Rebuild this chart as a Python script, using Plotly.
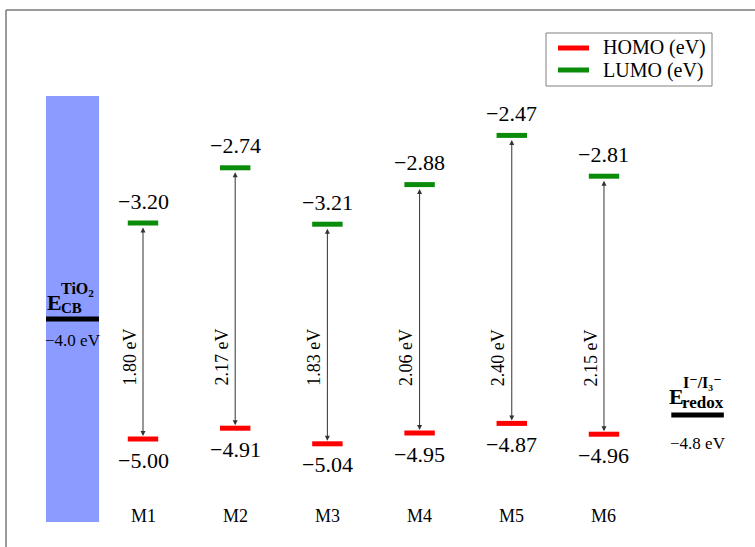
import plotly.graph_objects as go

# ---- data ----
molecules = ["M1", "M2", "M3", "M4", "M5", "M6"]
homo = [-5.00, -4.91, -5.04, -4.95, -4.87, -4.96]
lumo = [-3.20, -2.74, -3.21, -2.88, -2.47, -2.81]
gaps = [1.80, 2.17, 1.83, 2.06, 2.40, 2.15]
tio2_cb = -4.0
redox = -4.8
legend_names = ["HOMO (eV)", "LUMO (eV)"]

W, H = 755, 547
FONT = "Liberation Serif, Tinos, Times New Roman, DejaVu Serif, serif"
HOMO_C = "#ff0000"
LUMO_C = "#0a8c0a"

x_range = [-1.551, 6.638]
y_range = [-5.90, -1.3417]

def fx(px):
    return px / W

def fy(py):
    return 1 - py / H

xs = list(range(len(molecules)))
half = 0.165

def segs(vals):
    X, Y = [], []
    for i, v in zip(xs, vals):
        X += [i - half, i + half, None]
        Y += [v, v, None]
    return X, Y

fig = go.Figure()

hx, hy = segs(homo)
lx, ly = segs(lumo)
fig.add_trace(go.Scatter(x=hx, y=hy, mode="lines", name=legend_names[0], showlegend=False,
                         line=dict(color=HOMO_C, width=5), hoverinfo="skip"))
fig.add_trace(go.Scatter(x=lx, y=ly, mode="lines", name=legend_names[1], showlegend=False,
                         line=dict(color=LUMO_C, width=5), hoverinfo="skip"))

# TiO2 conduction band box and level
band_x0, band_x1 = -1.052, -0.477
fig.add_shape(type="rect", xref="x", yref="paper", x0=band_x0, x1=band_x1,
              y0=fy(522), y1=fy(96), fillcolor="#8c9bff", line=dict(width=0), layer="below")
fig.add_trace(go.Scatter(x=[band_x0, band_x1], y=[tio2_cb, tio2_cb], mode="lines",
                         line=dict(color="black", width=5), showlegend=False, hoverinfo="skip"))
# redox level
rx0, rx1 = 5.73, 6.30
fig.add_trace(go.Scatter(x=[rx0, rx1], y=[redox, redox], mode="lines",
                         line=dict(color="black", width=5), showlegend=False, hoverinfo="skip"))

ann = []
def fmt(v):
    return ("\u2212" if v < 0 else "") + f"{abs(v):.2f}"

def ptext(px, py, text, size, xanchor="left"):
    return dict(x=fx(px), xref="paper", xanchor=xanchor, y=fy(py), yref="paper",
                yanchor="middle", text=text, showarrow=False,
                font=dict(family=FONT, size=size, color="black"))

for i, (h, l, g, m) in enumerate(zip(homo, lumo, gaps, molecules)):
    ann.append(dict(x=i, y=h, ax=i, ay=l, xref="x", yref="y", axref="x", ayref="y",
                    text="", showarrow=True, arrowhead=2, startarrowhead=2,
                    arrowside="end+start", arrowsize=1, startarrowsize=1,
                    arrowwidth=1, arrowcolor="#333333", standoff=3, startstandoff=3))
    ann.append(dict(x=i, y=l, yshift=22, text=fmt(l), showarrow=False,
                    font=dict(family=FONT, size=22, color="black")))
    ann.append(dict(x=i, y=h, yshift=-21, text=fmt(h), showarrow=False,
                    font=dict(family=FONT, size=22, color="black")))
    ann.append(dict(x=i, y=-4.32, xshift=-13, text=f"{g:.2f} eV", textangle=-90,
                    showarrow=False, font=dict(family=FONT, size=18, color="black")))
    ann.append(dict(x=i, xanchor="center", y=fy(516), yref="paper", yanchor="middle",
                    text=m, showarrow=False, font=dict(family=FONT, size=18, color="black")))

# TiO2 label
bc = (band_x0 + band_x1) / 2
ann.append(ptext(45, 302, "<b>E</b>", 22))
ann.append(ptext(59, 289, "<b>TiO<sub>2</sub></b>", 16))
ann.append(ptext(59, 308, "<b>CB</b>", 15))
ann.append(dict(x=bc, y=tio2_cb, yshift=-21, text="\u22124.0 eV", showarrow=False,
                font=dict(family=FONT, size=17, color="black")))

# redox label
ann.append(ptext(667, 396, "<b>E</b>", 22))
ann.append(ptext(680, 402, "<b>redox</b>", 17))
ann.append(ptext(681, 382, "<b>I\u207b/I\u2083\u207b</b>", 16))
ann.append(dict(x=(rx0 + rx1) / 2, y=redox, yshift=-28, text="\u22124.8 eV", showarrow=False,
                font=dict(family=FONT, size=17, color="black")))

# manual legend
shapes = [
    dict(type="rect", xref="paper", yref="paper", x0=fx(546), x1=fx(712), y0=fy(86), y1=fy(33),
         line=dict(color="#808080", width=1), fillcolor="white"),
]
for name, col, py in zip(legend_names, [HOMO_C, LUMO_C], [48, 70]):
    shapes.append(dict(type="line", xref="paper", yref="paper", x0=fx(558), x1=fx(589),
                       y0=fy(py), y1=fy(py), line=dict(color=col, width=5)))
    ann.append(ptext(601, py, name, 20))

# frame (top and left only)
shapes += [
    dict(type="line", xref="paper", yref="paper", x0=fx(6), x1=1.01, y0=fy(10), y1=fy(10),
         line=dict(color="#7a7a7a", width=1.5)),
    dict(type="line", xref="paper", yref="paper", x0=fx(6), x1=fx(6), y0=-0.01, y1=fy(10),
         line=dict(color="#7a7a7a", width=1.5)),
]
for s in shapes:
    fig.add_shape(**s)

fig.update_layout(
    width=W, height=H, autosize=False,
    margin=dict(l=0, r=0, t=0, b=0),
    paper_bgcolor="white", plot_bgcolor="white",
    xaxis=dict(range=x_range, visible=False, fixedrange=True),
    yaxis=dict(range=y_range, visible=False, fixedrange=True),
    annotations=ann,
    showlegend=False,
)

fig.write_html("out.html")
